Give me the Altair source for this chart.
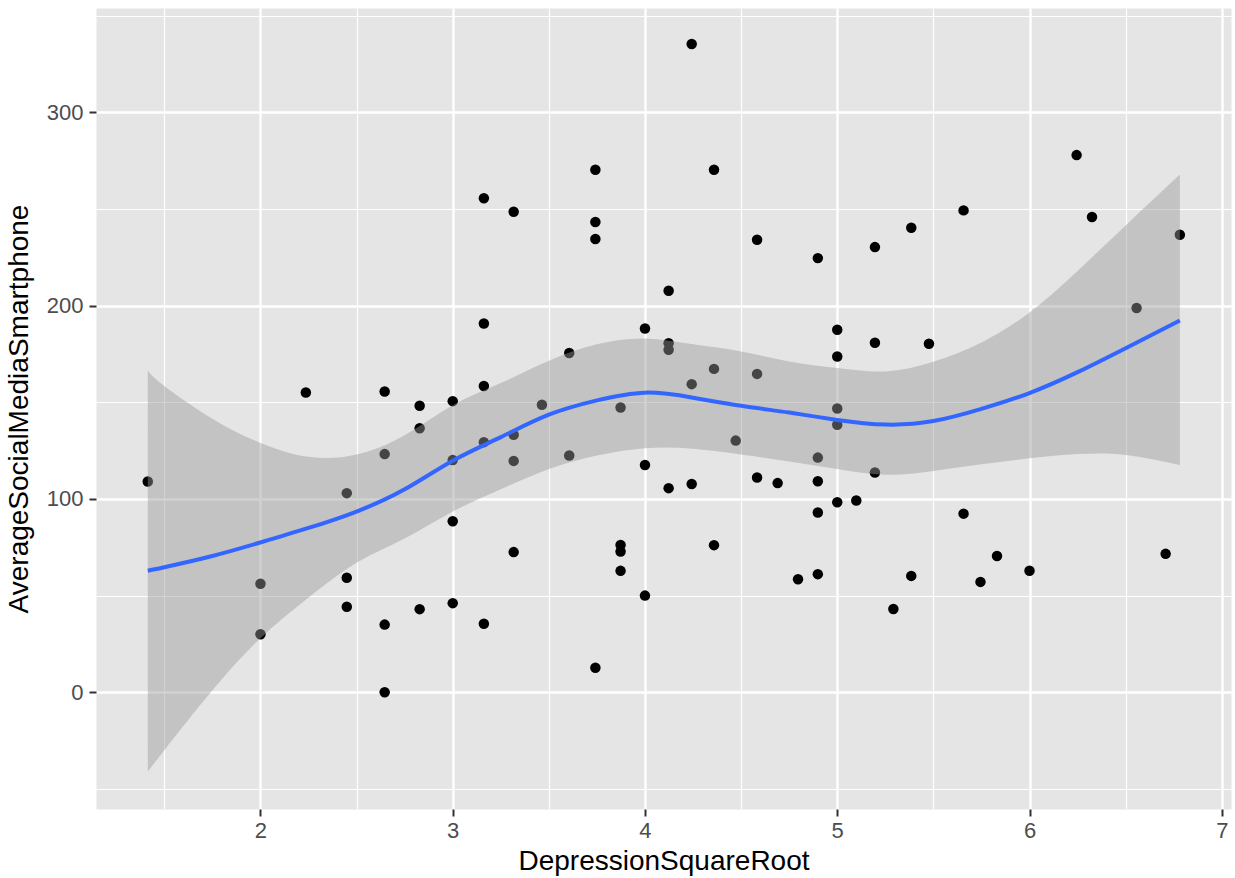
import altair as alt
import pandas as pd

# ---- scatter data ----
dep = [1.414,
       2.0, 2.0,
       2.236,
       2.449, 2.449, 2.449,
       2.646, 2.646, 2.646, 2.646,
       2.828, 2.828, 2.828,
       3.0, 3.0, 3.0, 3.0,
       3.162, 3.162, 3.162, 3.162, 3.162,
       3.317, 3.317, 3.317, 3.317,
       3.464,
       3.606, 3.606,
       3.742, 3.742, 3.742, 3.742,
       3.873, 3.873, 3.873, 3.873,
       4.0, 4.0, 4.0,
       4.123, 4.123, 4.123, 4.123,
       4.243, 4.243, 4.243,
       4.359, 4.359, 4.359,
       4.472,
       4.583, 4.583, 4.583,
       4.690,
       4.796,
       4.899, 4.899, 4.899, 4.899, 4.899,
       5.0, 5.0, 5.0, 5.0, 5.0,
       5.099,
       5.196, 5.196, 5.196,
       5.292,
       5.385, 5.385,
       5.477,
       5.657, 5.657,
       5.745,
       5.831,
       6.0,
       6.245,
       6.325,
       6.557,
       6.708,
       6.782]

social = [109.0,
          56.1, 30.0,
          155.1,
          103.0, 59.2, 44.2,
          155.6, 123.2, 35.0, 0.0,
          148.2, 136.6, 43.0,
          150.6, 120.1, 88.5, 46.1,
          255.6, 190.8, 158.4, 129.4, 35.4,
          248.6, 133.2, 119.7, 72.5,
          148.7,
          175.5, 122.5,
          270.3, 243.3, 234.5, 12.7,
          147.3, 76.2, 72.8, 62.8,
          188.2, 117.6, 50.0,
          207.7, 180.6, 177.2, 105.6,
          335.4, 159.4, 107.7,
          270.3, 167.3, 76.1,
          130.2,
          234.1, 164.7, 111.1,
          108.2,
          58.5,
          224.6, 121.4, 109.2, 93.0, 61.1,
          187.5, 173.7, 146.8, 138.4, 98.3,
          99.2,
          230.3, 180.8, 113.7,
          43.1,
          240.3, 60.2,
          180.3,
          249.3, 92.4,
          57.1,
          70.5,
          62.9,
          277.9,
          245.9,
          198.8,
          71.6,
          236.7]

# ---- smoother and its confidence band ----
fit_x = [1.414, 1.5, 1.75, 2.0, 2.25, 2.5, 2.75, 3.0, 3.25, 3.5, 3.75, 4.0,
         4.25, 4.5, 4.75, 5.0, 5.25, 5.5, 5.75, 6.0, 6.25, 6.5, 6.782]
fit_y = [62.9, 64.7, 70.5, 77.5, 85.0, 93.5, 105.0, 119.8, 132.0, 143.6, 151.0, 155.0,
         152.4, 148.2, 144.7, 140.9, 138.5, 140.3, 146.6, 154.8, 165.6, 178.0, 192.3]
fit_hi = [166.5, 158.5, 141.5, 129.0, 121.8, 123.0, 133.0, 148.5, 160.0, 171.5, 180.0, 183.0,
          180.0, 176.3, 171.1, 167.7, 166.0, 171.0, 181.0, 196.5, 218.0, 241.5, 267.8]
fit_lo = [-41.1, -30.0, 1.0, 28.0, 49.0, 67.0, 79.5, 93.5, 105.0, 115.5, 122.5, 126.3,
          126.0, 123.0, 119.4, 115.5, 112.5, 114.5, 118.0, 121.0, 123.2, 122.8, 117.6]

x_major = [2, 3, 4, 5, 6, 7]
x_minor = [1.5, 2.5, 3.5, 4.5, 5.5, 6.5]
y_major = [0, 100, 200, 300]
y_minor = [-50, 50, 150, 250, 350]

pts = pd.DataFrame({"DepressionSquareRoot": dep, "AverageSocialMediaSmartphone": social})
fit = pd.DataFrame({"DepressionSquareRoot": fit_x, "fit": fit_y, "lo": fit_lo, "hi": fit_hi})

FONT = "Liberation Sans"
xscale = alt.Scale(domain=[1.1446, 7.048], nice=False, zero=False)
yscale = alt.Scale(domain=[-60.4, 354.0], nice=False, zero=False)

minor_x = alt.Axis(values=x_minor, grid=True, gridColor="white", gridWidth=1.2,
                   labels=False, ticks=False, domain=False, title="", orient="bottom")
minor_y = alt.Axis(values=y_minor, grid=True, gridColor="white", gridWidth=1.2,
                   labels=False, ticks=False, domain=False, title="", orient="left")
major_x = alt.Axis(values=x_major, grid=True, gridColor="white", gridWidth=2.4,
                   domain=False, ticks=True, tickColor="#333333", tickSize=7, tickWidth=2,
                   labelFont=FONT, labelFontSize=22, labelColor="#4D4D4D", labelPadding=4,
                   title="DepressionSquareRoot", titleFont=FONT, titleFontSize=28,
                   titleFontWeight="normal", titleColor="black", titlePadding=6,
                   orient="bottom")
major_y = alt.Axis(values=y_major, grid=True, gridColor="white", gridWidth=2.4,
                   domain=False, ticks=True, tickColor="#333333", tickSize=7, tickWidth=2,
                   labelFont=FONT, labelFontSize=22, labelColor="#4D4D4D", labelPadding=6,
                   title="AverageSocialMediaSmartphone", titleFont=FONT, titleFontSize=28,
                   titleFontWeight="normal", titleColor="black", titlePadding=13,
                   orient="left")

points = alt.Chart(pts).mark_circle(size=110, color="black", opacity=1).encode(
    x=alt.X("DepressionSquareRoot:Q", scale=xscale, axis=minor_x),
    y=alt.Y("AverageSocialMediaSmartphone:Q", scale=yscale, axis=minor_y),
)

band = alt.Chart(fit).mark_area(color="#999999", opacity=0.45, interpolate="natural").encode(
    x=alt.X("DepressionSquareRoot:Q", scale=xscale, axis=major_x),
    y=alt.Y("lo:Q", scale=yscale, axis=major_y),
    y2="hi:Q",
)

line = alt.Chart(fit).mark_line(color="#3366FF", strokeWidth=4, interpolate="natural").encode(
    x=alt.X("DepressionSquareRoot:Q", scale=xscale, axis=None),
    y=alt.Y("fit:Q", scale=yscale, axis=None),
)

chart = alt.layer(points, band, line).resolve_axis(
    x="independent", y="independent"
).properties(
    width=1135, height=801,
    autosize=alt.AutoSizeParams(type="none"),
    padding={"left": 96, "top": 8, "right": 4, "bottom": 69},
    background="white",
).configure_view(fill="#E5E5E5", stroke="transparent")

chart.save("out.html", embed_options={"renderer": "svg", "actions": False})
